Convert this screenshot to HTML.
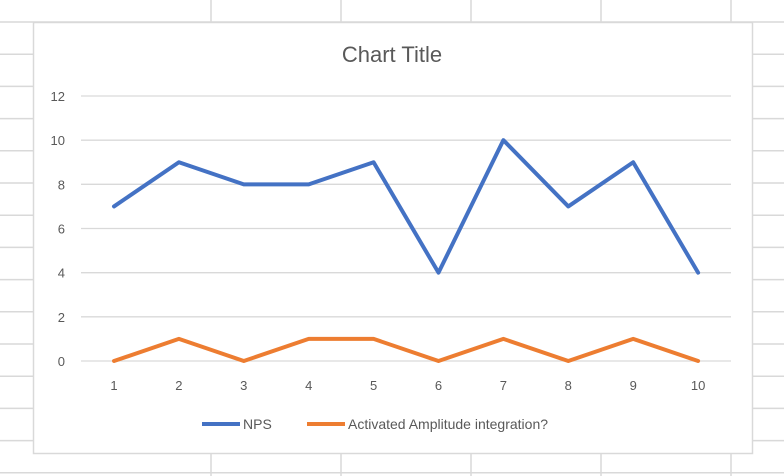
<!DOCTYPE html>
<html><head><meta charset="utf-8"><style>
html,body{margin:0;padding:0;background:#fff;}
svg{display:block;font-family:"Liberation Sans",Calibri,sans-serif;}
</style></head><body>
<svg id="c" width="784" height="476" viewBox="0 0 784 476">
<g id="sheet"></g>
<rect x="33.5" y="22.5" width="719" height="431" fill="#fff" stroke="#d9d9d9" stroke-width="1.5"/>
<text x="392" y="62" text-anchor="middle" font-size="22" fill="#595959">Chart Title</text>
<g id="grid"></g>
<g id="ylab"></g>
<g id="xlab"></g>
<g id="series"></g>
<g>
<line x1="202" y1="424" x2="240" y2="424" stroke="#4472c4" stroke-width="4"/>
<text x="243" y="429" font-size="14" fill="#595959">NPS</text>
<line x1="307" y1="424" x2="345" y2="424" stroke="#ed7d31" stroke-width="4"/>
<text x="348" y="429" font-size="14" fill="#595959">Activated Amplitude integration?</text>
</g>
</svg>
<script>
const categories=[1,2,3,4,5,6,7,8,9,10];
const npsValues=[7,9,8,8,9,4,10,7,9,4];
const amplitudeValues=[0,1,0,1,1,0,1,0,1,0];
const yTicks=[0,2,4,6,8,10,12];
const NS='http://www.w3.org/2000/svg';
const x=i=>114+i*64.9;
const y=v=>361-v*(265/12);
function mk(tag,attrs,parent){const e=document.createElementNS(NS,tag);for(const k in attrs)e.setAttribute(k,attrs[k]);parent.appendChild(e);return e;}
const sheet=document.getElementById('sheet');
for(let k=0;k<15;k++){const l=mk('line',{x1:0,x2:784,y1:22+32.2*k,y2:22+32.2*k,stroke:'#d9d9d9','stroke-width':1.5},sheet);

}
[211,341,471,601,731].forEach(vx=>{const l=mk('line',{x1:vx,x2:vx,y1:0,y2:476,stroke:'#d9d9d9','stroke-width':1.5},sheet);

});
const grid=document.getElementById('grid'),ylab=document.getElementById('ylab'),xlab=document.getElementById('xlab');
yTicks.forEach(t=>{const l=mk('line',{x1:81,x2:731,y1:y(t),y2:y(t),stroke:'#d9d9d9','stroke-width':1.3},grid);


const tx=mk('text',{x:65,y:y(t)+5,'text-anchor':'end','font-size':13,fill:'#595959'},ylab);tx.textContent=t;

});
categories.forEach((c,i)=>{const tx=mk('text',{x:x(i),y:390,'text-anchor':'middle','font-size':13,fill:'#595959'},xlab);tx.textContent=c;

});
const ser=document.getElementById('series');
function line(vals,color,name){const p=mk('polyline',{points:vals.map((v,i)=>x(i)+','+y(v)).join(' '),fill:'none',stroke:color,'stroke-width':4,'stroke-linejoin':'round','stroke-linecap':'round'},ser);

}
line(npsValues,'#4472c4','nps-line');
line(amplitudeValues,'#ed7d31','amplitude-line');
</script>
</body></html>
